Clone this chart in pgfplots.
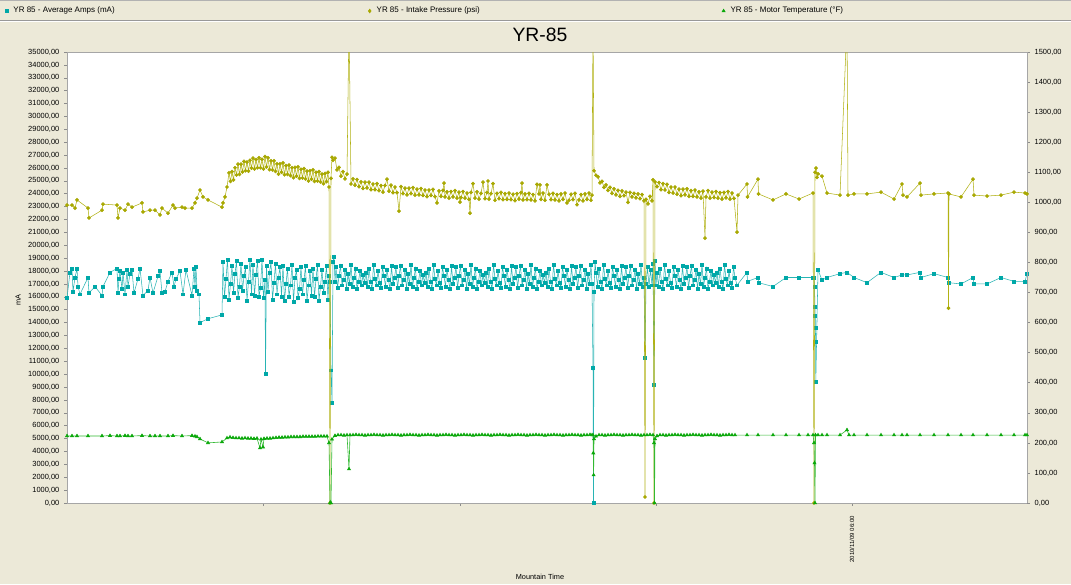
\documentclass[border=0pt]{standalone}
\usepackage{fontspec}
\setmainfont{Liberation Sans}
\usepackage{pgfplots}
\pgfplotsset{compat=1.18}
\definecolor{bg}{HTML}{ECE9D8}
\definecolor{amp}{RGB}{0,168,168}
\definecolor{ampl}{RGB}{40,180,180}
\definecolor{psi}{RGB}{168,168,0}
\definecolor{psil}{RGB}{178,178,20}
\definecolor{tmp}{RGB}{10,168,10}
\definecolor{tmpl}{RGB}{50,185,50}
\pgfplotsset{
  numfmt/.style={/pgf/number format/.cd, fixed, fixed zerofill, precision=2, use comma, 1000 sep={}, assume math mode=true},
}
\begin{document}
\begin{tikzpicture}
\begin{scope}[x=0.75pt,y=-0.75pt]
\fill[bg] (0,0) rectangle (1071,584);
\path[use as bounding box] (0,0) rectangle (1071,584);
\draw[black!30] (0,0.5) -- (1071,0.5);
\draw[black!40] (0,20) -- (1071,20);
\draw[white] (0,21.5) -- (1071,21.5);
\end{scope}

\begin{axis}[
  at={(50.25pt,-377.25pt)}, anchor=south west,
  scale only axis, width=720pt, height=338.25pt,
  xmin=67, xmax=1027, ymin=0, ymax=35000,
  axis background/.style={fill=white},
  axis line style={black!35},
  tick style={black!45, thin},
  tick align=outside, major tick length=2.2pt,
  xtick={263,460,656,852}, xticklabels={,,,2010/11/09 06:00},
  xtick pos=left, ytick pos=left,
  x tick label style={rotate=90, anchor=east, font=\fontsize{4.5}{5}\selectfont, inner ysep=1.5pt, inner xsep=7.5pt},
  ytick={0,1000,...,35000},
  scaled y ticks=false,
  yticklabel style={font=\fontsize{5.6}{6}\selectfont, numfmt},
  ylabel={mA}, ylabel style={at={(axis description cs:-0.051,0.45)}, anchor=center, font=\fontsize{5.5}{6}\selectfont},
  xlabel={Mountain Time}, xlabel style={at={(axis description cs:0.4927,-0.164)}, anchor=center, font=\fontsize{5.5}{6}\selectfont},
  every axis title shift=0pt,
  title={YR-85}, title style={at={(axis description cs:0.4927,1.0377)}, anchor=center, font=\fontsize{14.5}{16}\selectfont},
  legend columns=3,
  legend style={at={(axis description cs:-0.0677,1.0909)}, anchor=west, draw=none, fill=none, inner sep=0pt, font=\fontsize{6}{7}\selectfont},
  legend image code/.code={\path (0pt,0pt) (6pt,0pt); \draw[#1] plot coordinates {(3pt,0pt)};},
]
\addplot[color=ampl, line width=0.4pt, mark=square*, mark size=1.1pt, mark options={draw=amp, fill=amp}] coordinates {
(67,15900)(70,17900)(72,18200)(73,16400)(75,17500)(77,18200)(78,16800)(80,16200)(88,17500)(89,16300)(95,16800)(102,16100)(103,16800)(110,17900)(117,18200)(118,16300)(119,17400)(120,18000)(122,16600)(123,17900)(125,16200)(127,18100)(128,16800)(130,17800)(132,18100)(134,16300)(138,17400)(140,18200)(143,16100)(148,16500)(150,17500)(153,16300)(158,17600)(160,18000)(162,16300)(165,16400)(168,17200)(172,17900)(174,16800)(176,17400)(180,18000)(183,16200)(186,18100)(192,16100)(194,18200)(195,16800)(196,18300)(197,16500)(199,16200)(200,14000)(208,14300)(222,14600)
(223,18700)(224.5,16000)(226,17400)(227.5,18900)(229,15800)(230.5,17000)(232,18400)(233.5,16300)(235,17800)(236.5,18800)(238,15900)(239.5,16800)(241,18600)(242.5,16500)(244,17600)(245.5,18300)(247,15700)(248.5,17200)(250,18900)(251.5,16200)
(253,18500)(254.5,16100)(256,17700)(257.5,18800)(259,16000)(260.5,16700)(262,18900)(263.5,15900)(265,17300)(265.5,10000)(266.5,18400)(268,16400)(269.5,17900)(271,18700)(272.5,15800)(274,17100)(275.5,18600)(277,16200)(278.5,17500)(280,18300)(281.5,16000)
(283,18400)(284.5,15700)(286,17000)(287.5,18200)(289,16000)(290.5,16900)(292,18500)(293.5,15600)(295,17500)(296.5,18100)(298,15900)(299.5,16600)(301,18300)(302.5,16200)(304,17300)(305.5,18400)(307,15700)(308.5,16900)(310,18000)(311.5,16100)
(313,18200)(314.5,16000)(316,17400)(317.5,18500)(319,15700)(320.5,16800)(322,18100)(323.5,16300)(325,17200)(326.5,18400)(328,15800)(329,17600)(330,17200)(331,10300)(332,7800)(333,18700)(334,19100)(335,17200)
(336,18300)(337.5,16700)(339,17600)(340.5,18400)(342,16900)(343.5,17300)(345,18100)(346.5,16600)(348,17800)(349.5,17000)(351,18500)(352.5,16800)(354,17500)(355.5,18200)(357,16600)(358.5,17200)(360,18000)(361.5,16900)(363,17700)(364.5,17100)
(366,17900)(367.5,16800)(369,18200)(370.5,17200)(372,16600)(373.5,18500)(375,17400)(376.5,16900)(378,18000)(379.5,17100)(381,16700)(382.5,18300)(384,17600)(385.5,16800)(387,18100)(388.5,17300)(390,16600)(391.5,18400)(393,17000)(394.5,17500)
(396,18300)(397.5,16700)(399,17600)(400.5,18400)(402,16900)(403.5,17300)(405,18100)(406.5,16600)(408,17800)(409.5,17000)(411,18500)(412.5,16800)(414,17500)(415.5,18200)(417,16600)(418.5,17200)(420,18000)(421.5,16900)(423,17700)(424.5,17100)
(426,17900)(427.5,16800)(429,18200)(430.5,17200)(432,16600)(433.5,18500)(435,17400)(436.5,16900)(438,18000)(439.5,17100)(441,16700)(442.5,18300)(444,17600)(445.5,16800)(447,18100)(448.5,17300)(450,16600)(451.5,18400)(453,17000)(454.5,17500)
(456,18300)(457.5,16700)(459,17600)(460.5,18400)(462,16900)(463.5,17300)(465,18100)(466.5,16600)(468,17800)(469.5,17000)(471,18500)(472.5,16800)(474,17500)(475.5,18200)(477,16600)(478.5,17200)(480,18000)(481.5,16900)(483,17700)(484.5,17100)
(486,17900)(487.5,16800)(489,18200)(490.5,17200)(492,16600)(493.5,18500)(495,17400)(496.5,16900)(498,18000)(499.5,17100)(501,16700)(502.5,18300)(504,17600)(505.5,16800)(507,18100)(508.5,17300)(510,16600)(511.5,18400)(513,17000)(514.5,17500)
(516,18300)(517.5,16700)(519,17600)(520.5,18400)(522,16900)(523.5,17300)(525,18100)(526.5,16600)(528,17800)(529.5,17000)(531,18500)(532.5,16800)(534,17500)(535.5,18200)(537,16600)(538.5,17200)(540,18000)(541.5,16900)(543,17700)(544.5,17100)
(546,17900)(547.5,16800)(549,18200)(550.5,17200)(552,16600)(553.5,18500)(555,17400)(556.5,16900)(558,18000)(559.5,17100)(561,16700)(562.5,18300)(564,17600)(565.5,16800)(567,18100)(568.5,17300)(570,16600)(571.5,18400)(573,17000)(574.5,17500)
(576,18300)(577.5,16700)(579,17600)(580.5,18400)(582,16900)(583.5,17300)(585,18100)(586.5,16600)(588,17800)(589.5,17000)(591,18500)(592,17000)(593,10500)(593.5,0)(594,16400)(595,18700)
(596,17900)(597.5,16800)(599,18200)(600.5,17200)(602,16600)(603.5,18500)(605,17400)(606.5,16900)(608,18000)(609.5,17100)(611,16700)(612.5,18300)(614,17600)(615.5,16800)(617,18100)(618.5,17300)(620,16600)(621.5,18400)(623,17000)(624.5,17500)
(626,18300)(627.5,16700)(629,17600)(630.5,18400)(632,16900)(633.5,17300)(635,18100)(636.5,16600)(638,17800)(639.5,17000)(641,18500)(642.5,16800)(644,17500)(645,11300)(646,17000)(647.5,18300)(649,16800)(650.5,18100)(652,16900)(653,18600)(654,9200)(655,18800)(656,16900)
(657,17900)(658.5,16800)(660,18200)(661.5,17200)(663,16600)(664.5,18500)(666,17400)(667.5,16900)(669,18000)(670.5,17100)(672,16700)(673.5,18300)(675,17600)(676.5,16800)(678,18100)(679.5,17300)(681,16600)(682.5,18400)(684,17000)(685.5,17500)
(687,18300)(688.5,16700)(690,17600)(691.5,18400)(693,16900)(694.5,17300)(696,18100)(697.5,16600)(699,17800)(700.5,17000)(702,18500)(703.5,16800)(705,17500)(706.5,18200)(708,16600)(709.5,17200)(711,18000)(712.5,16900)(714,17700)(715.5,17100)
(717,17900)(718.5,16800)(720,18200)(721.5,17200)(723,16600)(724.5,18500)(726,17400)(727.5,16900)(729,18000)(730.5,17100)(732,16700)(733.5,18300)(735,17500)
(737,16900)(747,17900)(747.5,17200)(758,17500)(758.5,17100)(773,16800)(786,17500)(799,17500)(813,17500)(814,17500)(814.5,16800)(815,15200)(815.2,14500)(815.4,13600)(815.6,12500)(815.8,9400)(818,18100)(822,17300)(827,17500)(840,17800)(847,17900)(854,17500)(867,17100)(881,17900)(894,17500)(902,17700)(907,17700)(920,17900)(921,17500)(934,17800)(948,17500)(948.5,17100)(961,17000)(973,17500)(974,17000)(987,17000)(1001,17500)(1014,17200)(1025,17200)(1027,17800)
};
\addlegendentry{\makebox[262pt][l]{YR 85 - Average Amps (mA)}}
\addlegendimage{color=psil, mark=diamond*, mark size=1.4pt, mark options={draw=psi, fill=psi}}
\addlegendentry{\makebox[255pt][l]{YR 85 - Intake Pressure (psi)}}
\addlegendimage{color=tmpl, mark=triangle*, mark size=1.4pt, mark options={draw=tmp, fill=tmp}}
\addlegendentry{YR 85 - Motor Temperature (°F)}
\end{axis}

\begin{axis}[
  at={(50.25pt,-377.25pt)}, anchor=south west,
  scale only axis, width=720pt, height=338.25pt,
  xmin=67, xmax=1027, ymin=0, ymax=1500,
  axis x line=none, axis y line*=right,
  axis line style={black!35},
  tick style={black!45, thin},
  tick align=outside, major tick length=2.2pt,
  ytick={0,100,...,1500},
  scaled y ticks=false,
  yticklabel style={font=\fontsize{5.6}{6}\selectfont, numfmt},
]
\addplot[color=psil, line width=0.4pt, mark=*, mark size=1.2pt, mark options={draw=psi, fill=psi}] coordinates {
(67,991)(72,991)(75,981)(77,1008)(88,981)(89,948)(102,974)(103,994)(117,991)(118,948)(120,981)(125,974)(128,994)(132,984)(142,998)(143,968)(150,974)(155,974)(160,958)(162,981)(168,964)(173,991)(175,981)(182,984)(185,981)(192,981)(195,998)(197,1014)(200,1041)(203,1018)(208,1008)(222,984)(223,998)(225,1018)(227,1051)
(229,1098)(230.5,1070)(232,1102)(233.5,1075)(235,1115)(236.5,1091)(238,1127)(239.5,1093)(241,1127)(242.5,1101)(244,1136)(245.5,1105)(247,1134)(248.5,1104)(250,1140)(251.5,1114)(253,1147)(254.5,1111)(256,1142)(257.5,1115)(259,1148)(260.5,1115)(262,1143)(263.5,1111)(265,1152)(266.5,1118)(268,1148)(269.5,1109)(271,1138)(272.5,1108)(274,1138)(275.5,1103)(277,1128)(278.5,1094)(280,1128)(281.5,1100)(283,1131)(284.5,1092)(286,1122)(287.5,1093)(289,1124)(290.5,1089)(292,1115)(293.5,1082)(295,1116)(296.5,1087)(298,1118)(299.5,1080)(301,1110)(302.5,1081)(304,1112)(305.5,1078)(307,1104)(308.5,1071)(310,1105)(311.5,1077)(313,1108)(314.5,1070)(316,1100)(317.5,1071)(319,1102)(320.5,1068)(322,1094)(323.5,1062)(325,1096)(326.5,1069)(328,1100)(329,1051)(330,0)(331,1080)(332,1150)(333,1140)
(335,1147)(337,1108)(339,1116)(341,1087)(343,1102)(345,1078)(347,1094)(349,1600)(351,1061)(353,1078)(355,1057)(357,1076)(359,1052)(361,1068)(363,1046)(365,1067)(367,1048)(369,1067)(371,1042)(373,1061)(375,1042)(377,1062)(379,1039)(381,1056)(383,1034)(385,1056)(387,1077)(389,1037)(391,1057)(393,1032)(395,1051)(397,1032)(399,971)(401,1052)(403,1029)(405,1047)(407,1025)(409,1047)(411,1029)(413,1049)(415,1024)(417,1044)(419,1025)(421,1046)(423,1023)(425,1041)(427,1019)(429,1041)(431,1023)(433,1043)(435,1019)(437,998)(439,1038)(441,1020)(443,1040)(444,1064)(445,1018)(447,1035)(449,1014)(451,1036)(453,1018)(455,1039)(457,1014)(459,1034)(460,1001)(461,1016)(463,1036)(465,1014)(467,1031)(469,1010)(470,964)(471,1033)(473,1062)(475,1014)(477,1035)(479,1011)(481,1030)(483,1067)(485,1012)(487,1033)(488,1071)(489,1011)(491,1029)(493,1062)(495,1007)(497,1030)(499,1012)(501,1033)(503,1009)(505,1029)(507,1010)(509,1031)(511,1009)(513,1027)(515,1006)(517,1029)(519,1011)(521,1032)(522,1064)(523,1008)(525,1028)(527,1009)(529,1030)(531,1008)(533,1026)(535,1005)(537,1060)(539,1028)(540,1058)(541,1010)(543,1031)(545,1007)(547,1058)(549,1027)(551,1009)(553,1030)(555,1008)(557,1026)(559,1005)(561,1028)(563,1010)(565,1031)(567,998)(569,1007)(571,1027)(573,1009)(575,1030)(577,992)(579,1008)(581,1026)(583,1005)(585,1028)(587,1010)(589,1031)(591,1007)(592,1024)
(593,1600)(594,1105)(596,1090)(598,1085)(600,1065)(602,1070)(604,1050)(606,1058)(608,1040)(610,1050)(612,1030)(614,1045)(616,1025)(618,1040)(620,1020)(622,1038)(624,1022)(626,1034)(628,1000)(630,1033)(632,1018)(634,1030)(636,1015)(638,1028)(640,1012)(642,1026)(644,1005)(645,20)(646,1010)(648,995)(650,1020)(652,1005)(653,1075)(654,0)(655,1068)
(657,1052)(659,1066)(661,1042)(663,1062)(665,1041)(667,1060)(669,1033)(671,1051)(673,1031)(675,1051)(677,1027)(679,1044)(681,1022)(683,1044)(685,1025)(687,1045)(689,1020)(691,1039)(693,1020)(695,1041)(697,1018)(699,1035)(701,1014)(703,1037)(705,881)(706,1018)(708,1039)(710,1014)(712,1034)(714,1016)(716,1036)(718,1014)(720,1032)(722,1011)(724,1033)(726,1015)(728,1036)(730,1011)(732,1031)(734,1013)
(737,901)(738,1024)(747,1061)(747.5,1018)(758,1077)(758.5,1028)(773,1008)(786,1028)(799,1011)(813,1031)(814,0)(815,1100)(816,1114)(817,1083)(818,1095)(822,1087)(827,1031)(840,1024)(847,1600)(848,1024)(854,1028)(867,1028)(881,1034)(894,1011)(902,1061)(903,1024)(907,1018)(920,1064)(921,1024)(934,1028)(948,1031)(948.5,648)(949,1028)(961,1018)(973,1077)(974,1024)(987,1021)(1001,1024)(1014,1034)(1025,1031)(1027,1028)
};
\addplot[color=tmpl, line width=0.45pt, mark=triangle*, mark size=1.3pt, mark options={draw=tmp, fill=tmp}] coordinates {
(67,223)(72,223)(77,223)(88,223)(102,223)(110,224)(117,223)(120,223)(125,224)(128,223)(132,223)(142,224)(150,223)(155,223)(160,223)(168,223)(173,224)(182,223)(192,224)(195,222)(197,220)(200,213)(208,200)(222,203)(227,216)
(230,219)(233,217)(236,216)(239,216)(242,215)(245,216)(248,215)(251,215)(254,214)(257,215)(260,183)(261,212)(263,186)(264,214)(267,215)(270,215)(273,216)(276,217)(279,218)(282,218)(285,219)(288,219)(291,220)(294,220)(297,220)(300,220)(303,221)(306,221)(309,221)(312,221)(315,221)(318,222)(321,222)(324,222)(327,222)(329,200)(330,0)(331,0)(332,212)(335,224)(338,226)
(341,226)(344,225)(347,226)(349,113)(350,226)(353,226)(356,227)(359,226)(362,226)(365,225)(368,226)(371,226)(374,227)(377,226)(380,226)(383,225)(386,226)(389,226)(392,227)(395,226)(398,226)(401,225)(404,226)(407,226)(410,227)(413,226)(416,226)(419,225)(422,226)(425,226)(428,227)(431,226)(434,226)(437,225)(440,226)(443,226)(446,227)(449,226)(452,226)(455,225)(458,226)(461,226)(464,227)(467,226)(470,226)(473,225)(476,226)(479,226)(482,227)(485,226)(488,226)(491,225)(494,226)(497,226)(500,227)(503,226)(506,226)(509,225)(512,226)(515,226)(518,227)(521,226)(524,226)(527,225)(530,226)(533,226)(536,227)(539,226)(542,226)(545,225)(548,226)(551,226)(554,227)(557,226)(560,226)(563,225)(566,226)(569,226)(572,227)(575,226)(578,226)(581,225)(584,226)(587,226)(590,227)(592,226)(593,226)(593.3,166)(593.6,93)(594,213)(596,222)
(599,226)(602,226)(605,225)(608,226)(611,226)(614,227)(617,226)(620,226)(623,225)(626,226)(629,226)(632,227)(635,226)(638,226)(641,225)(644,226)(647,226)(650,227)(653,226)(654,200)(654.5,0)(655,213)(657,223)(660,226)(663,226)(666,225)(669,226)(672,226)(675,227)(678,226)(681,226)(684,225)(687,226)(690,226)(693,227)(696,226)(699,226)(702,225)(705,226)(708,226)(711,227)(714,226)(717,226)(720,225)(723,226)(726,226)(729,227)(732,226)(735,226)
(747,226)(758,226)(773,226)(786,226)(799,226)(808,226)(813,226)(814,200)(814.5,133)(815,0)(815.5,226)(818,226)(822,226)(827,226)(840,226)(847,243)(849,226)(854,226)(867,226)(881,226)(894,226)(902,226)(907,226)(920,226)(934,226)(948,226)(961,226)(973,226)(987,226)(1001,226)(1014,226)(1025,226)(1027,226)
};
\end{axis}
\end{tikzpicture}
\end{document}
